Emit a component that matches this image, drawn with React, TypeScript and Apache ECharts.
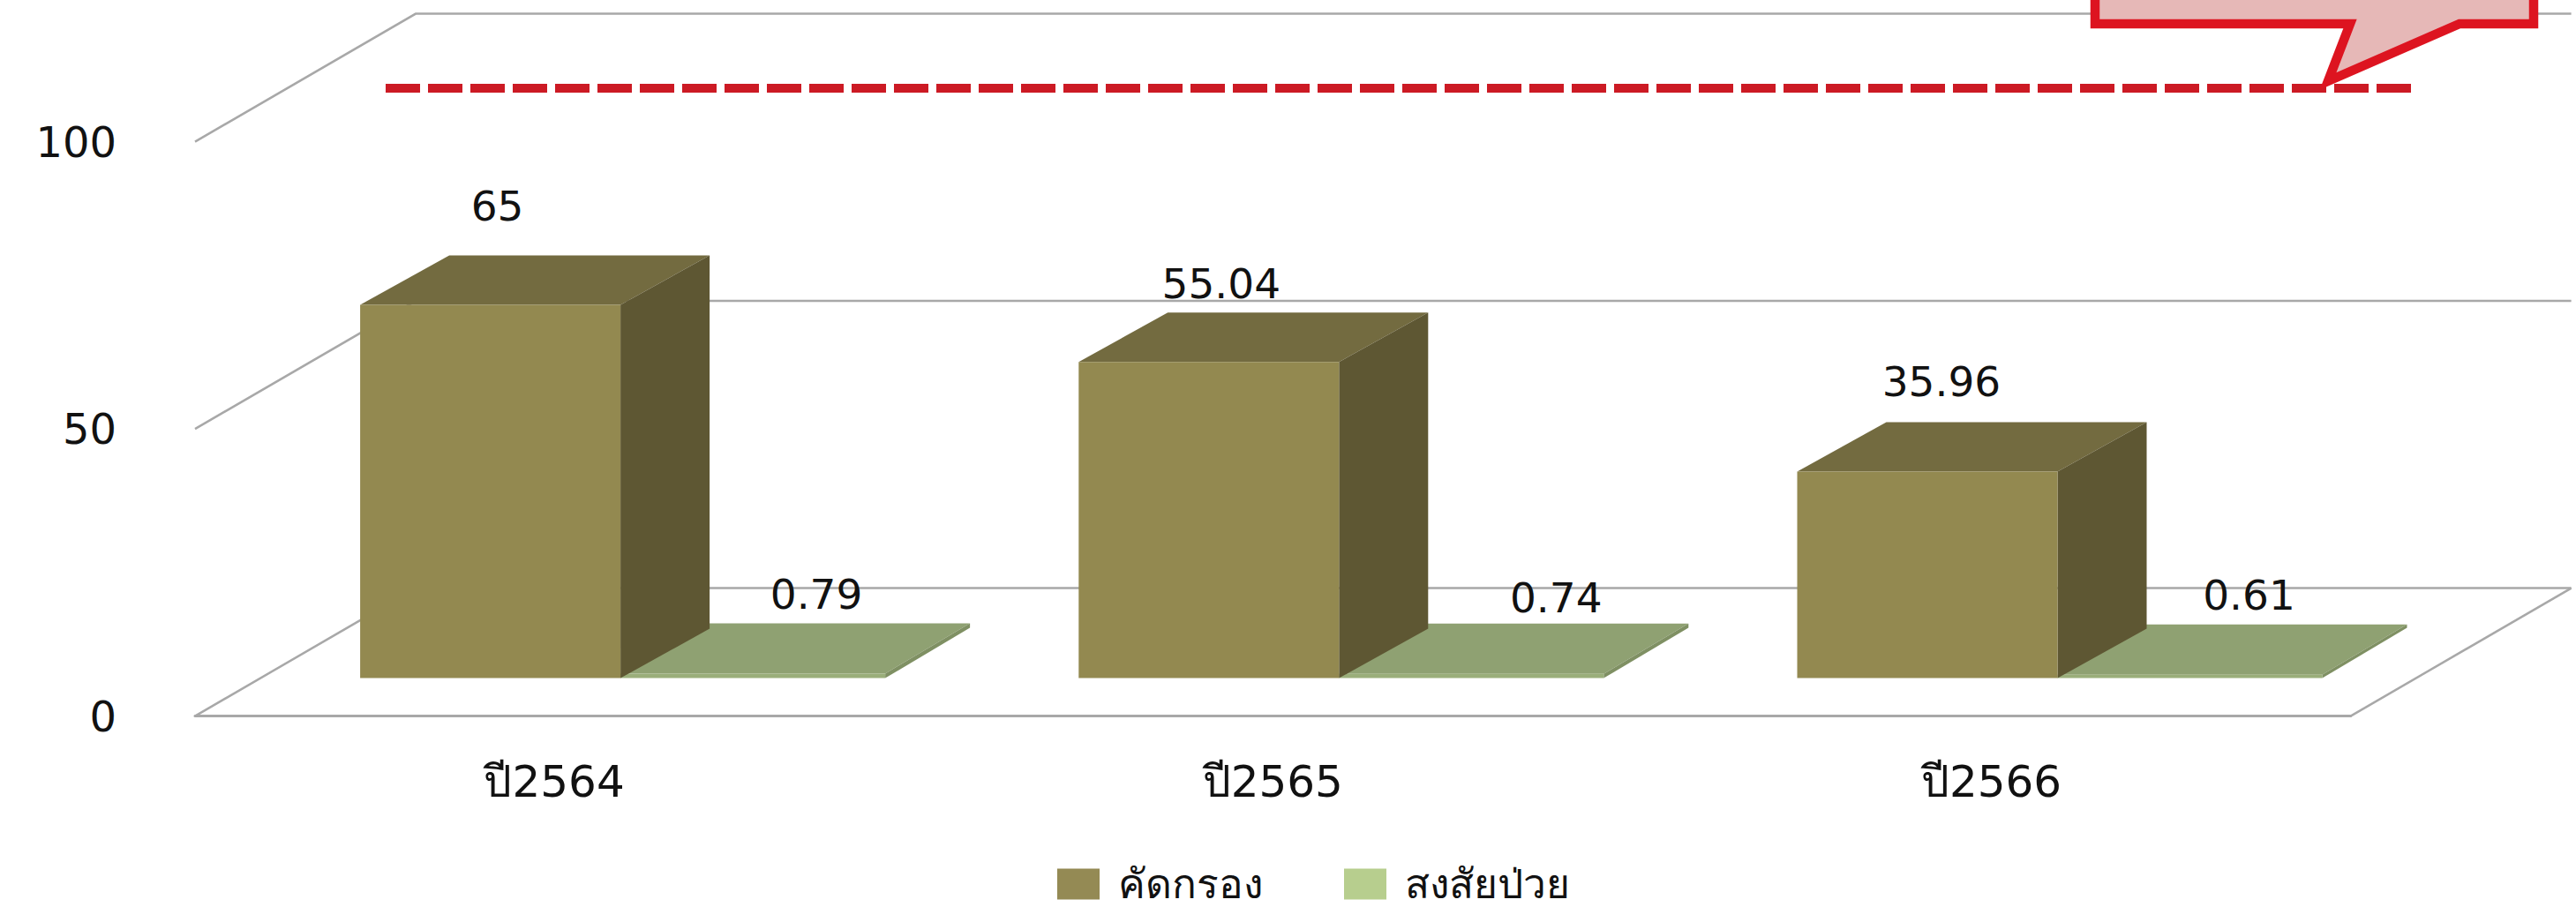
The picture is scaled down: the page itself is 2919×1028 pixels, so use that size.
import React, { useEffect, useRef } from "react";
import * as echarts from "echarts";

const categories = ["ปี2564", "ปี2565", "ปี2566"];
const seriesNames = ["คัดกรอง", "สงสัยป่วย"];
const screened = [65, 55.04, 35.96];
const suspected = [0.79, 0.74, 0.61];
const screenedLabels = ["65", "55.04", "35.96"];
const suspectedLabels = ["0.79", "0.74", "0.61"];
const gridLevels = [0, 50, 100];

const W = 2919;
const H = 1028;
const FONT = "'DejaVu Sans', 'Noto Sans', sans-serif";
const WALL_DX = 250;
const WALL_DY = 145;
const GRID_COLOR = "#a8a8a8";

// label nudges relative to the top-front edge of each bar
const labelNudgeA = [[8, -112], [14, -89], [16, -102]];
const labelNudgeB = [[72, -90], [96, -86], [67, -90]];

function wallItem(params: any, api: any) {
  const cs = params.coordSys;
  const y = api.coord([0, api.value(0)])[1];
  const left = cs.x;
  const right = cs.x + cs.width;
  const children: any[] = [
    {
      type: "polyline",
      shape: { points: [[left, y], [left + WALL_DX, y - WALL_DY], [right + WALL_DX, y - WALL_DY]] },
      style: { fill: "none", stroke: GRID_COLOR, lineWidth: 2.5 },
    },
  ];
  if (api.value(0) === 0) {
    children.push({
      type: "line",
      shape: { x1: right, y1: y, x2: right + WALL_DX, y2: y - WALL_DY },
      style: { stroke: GRID_COLOR, lineWidth: 2.5 },
    });
  }
  return { type: "group", children };
}

function boxItem(
  offsetX: number,
  width: number,
  dx: number,
  dy: number,
  colors: { front: string; top: string; side: string },
  labels: string[],
  nudges: number[][],
) {
  return (params: any, api: any) => {
    const i = params.dataIndex;
    const centre = api.coord([api.value(0), 0]);
    const top = api.coord([api.value(0), api.value(1)]);
    const lift = 43;
    const x0 = centre[0] + offsetX;
    const x1 = x0 + width;
    const yb = centre[1] - lift;
    const yt = top[1] - lift;
    return {
      type: "group",
      children: [
        {
          type: "polygon",
          shape: { points: [[x0, yt], [x1, yt], [x1 + dx, yt - dy], [x0 + dx, yt - dy]] },
          style: { fill: colors.top },
        },
        {
          type: "polygon",
          shape: { points: [[x1, yt], [x1 + dx, yt - dy], [x1 + dx, yb - dy], [x1, yb]] },
          style: { fill: colors.side },
        },
        {
          type: "rect",
          shape: { x: x0, y: yt, width, height: yb - yt },
          style: { fill: colors.front },
        },
        {
          type: "text",
          style: {
            x: x0 + width / 2 + nudges[i][0],
            y: yt + nudges[i][1],
            text: labels[i],
            fill: "#111111",
            font: `47px ${FONT}`,
            textAlign: "center",
            textVerticalAlign: "middle",
          },
        },
      ],
    };
  };
}

export default function App() {
  const ref = useRef<HTMLDivElement>(null);
  useEffect(() => {
    const chart = echarts.init(ref.current!, undefined, { renderer: "svg" });
    chart.setOption({
      animation: false,
      backgroundColor: "#ffffff",
      grid: { left: 221, top: 160.6, width: 2442.6, height: 651 },
      xAxis: {
        type: "category",
        data: categories,
        axisTick: { show: false },
        axisLine: { lineStyle: { color: GRID_COLOR, width: 3 } },
        axisLabel: { color: "#111111", fontFamily: FONT, fontSize: 50, margin: 49 },
      },
      yAxis: {
        type: "value",
        min: 0,
        max: 100,
        interval: 50,
        axisLine: { show: false },
        axisTick: { show: false },
        splitLine: { show: false },
        axisLabel: { color: "#111111", fontFamily: FONT, fontSize: 48, margin: 89, padding: [0, 0, 12, 0] },
      },
      legend: {
        data: seriesNames,
        left: 1193,
        top: 974,
        itemWidth: 48,
        itemHeight: 35,
        itemGap: 92,
        icon: "rect",
        textStyle: { color: "#111111", fontFamily: FONT, fontSize: 46, padding: [0, 0, 0, 16] },
      },
      series: [
        {
          type: "custom",
          name: "walls",
          clip: false,
          z: 1,
          data: gridLevels.map((v) => [v]),
          renderItem: wallItem,
        },
        {
          type: "custom",
          name: seriesNames[1],
          clip: false,
          z: 2,
          itemStyle: { color: "#b7ce8e" },
          encode: { x: 0, y: 1 },
          data: suspected.map((v, i) => [i, v]),
          renderItem: boxItem(75, 300, 96, 57, { front: "#9aae7a", top: "#8fa172", side: "#7f9063" }, suspectedLabels, labelNudgeB),
        },
        {
          type: "custom",
          name: seriesNames[0],
          clip: false,
          z: 3,
          itemStyle: { color: "#948a54" },
          encode: { x: 0, y: 1 },
          data: screened.map((v, i) => [i, v]),
          renderItem: boxItem(-220, 295, 101, 56, { front: "#938950", top: "#736b40", side: "#5e5733" }, screenedLabels, labelNudgeA),
        },
      ],
      graphic: [
        {
          type: "line",
          z: 20,
          shape: { x1: 437, y1: 100, x2: 2734, y2: 100 },
          style: { stroke: "#cc1a24", lineWidth: 10, lineDash: [39, 9] },
        },
        {
          type: "polygon",
          z: 21,
          shape: {
            points: [
              [2374, -40], [2871, -40], [2871, 27], [2787, 27], [2638, 92], [2663, 27], [2374, 27],
            ],
          },
          style: { fill: "#e6b8b7", stroke: "#dd1420", lineWidth: 10.5 },
        },
      ],
    });
    return () => chart.dispose();
  }, []);
  return <div ref={ref} style={{ position: "fixed", left: 0, top: 0, width: W, height: H }} />;
}
